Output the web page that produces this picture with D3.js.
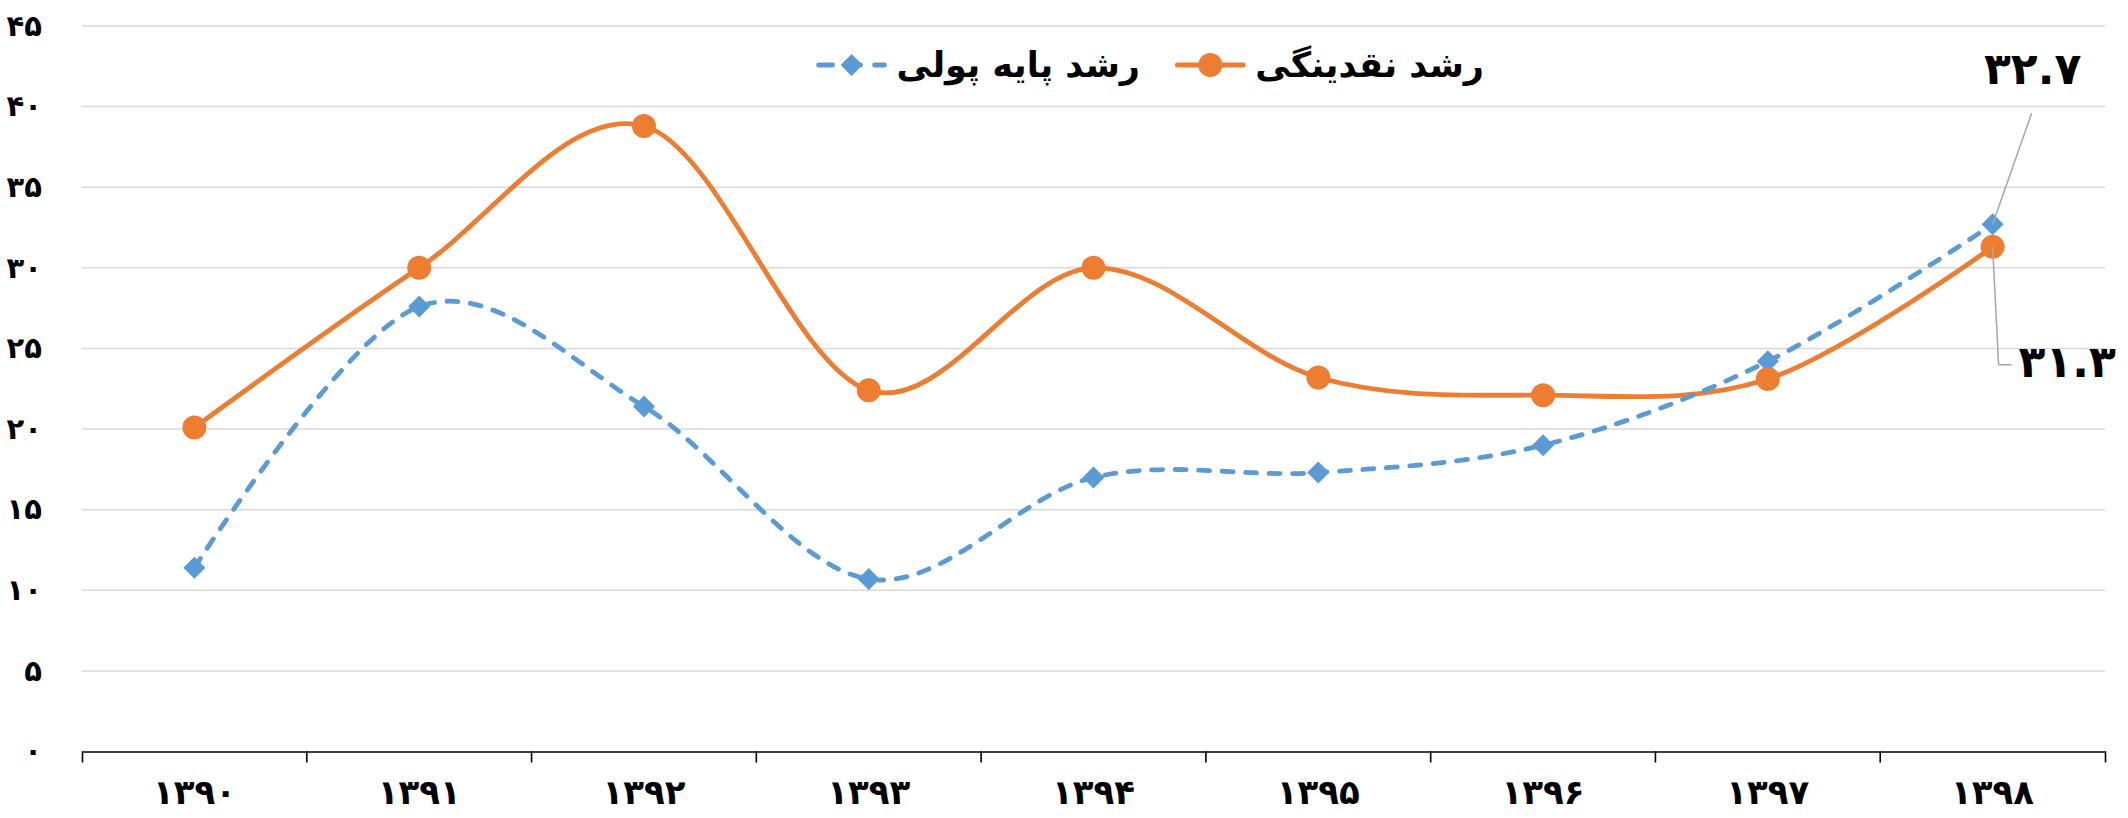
<!DOCTYPE html>
<html>
<head>
    <meta charset="utf-8" />
    <title>رشد نقدینگی و پایه پولی</title>
    <script type="text/javascript" src="https://d3js.org/d3.v7.min.js"></script>
    <style>
        html, body { margin: 0; padding: 0; background: #fff; }
        svg { display: block; font-family: "DejaVu Sans", sans-serif; }
    </style>
</head>
<body>
    <div id="chart"></div>
    <script type="text/javascript">

        var w = 2128,
            h = 818;

        var years = ["1390", "1391", "1392", "1393", "1394", "1395", "1396", "1397", "1398"];
        var liquidity = [20.1, 30.0, 38.8, 22.4, 30.0, 23.2, 22.1, 23.1, 31.3];
        var monetaryBase = [11.4, 27.6, 21.4, 10.7, 17.0, 17.3, 19.0, 24.2, 32.7];
        var yTicks = [0, 5, 10, 15, 20, 25, 30, 35, 40, 45];
        var seriesNames = ["رشد نقدینگی", "رشد پایه پولی"];

        // persian digits
        function fa(v) {
            return String(v).replace(/[0-9]/g, function(c) { return "۰۱۲۳۴۵۶۷۸۹"[+c]; });
        }

        var svg = d3.select("#chart").append("svg")
            .attr("width", w)
            .attr("height", h);

        var x = d3.scaleBand().domain(years).range([82, 2105]);
        var y = d3.scaleLinear().domain([0, 45]).range([751.5, 26]);
        var cx = function(d, i) { return x(years[i]) + x.bandwidth() / 2; };

        // gridlines
        svg.append("g").selectAll("line")
            .data(yTicks.slice(1))
            .enter().append("line")
            .attr("x1", 82).attr("x2", 2105)
            .attr("y1", function(d) { return y(d); })
            .attr("y2", function(d) { return y(d); })
            .attr("stroke", "#d9d9d9")
            .attr("stroke-width", 1.5);

        // y axis labels
        var yAxis = svg.append("g")
            .attr("transform", "translate(82,0)")
            .call(d3.axisLeft(y).tickValues(yTicks).tickFormat(fa).tickSize(0).tickPadding(40));
        yAxis.select(".domain").remove();
        yAxis.selectAll("text")
            .attr("font-size", "29px")
            .attr("font-weight", "bold")
            .attr("font-family", "DejaVu Sans, sans-serif")
            .attr("fill", "#000");

        // x axis
        var xAxis = svg.append("g")
            .attr("transform", "translate(0," + y(0) + ")")
            .call(d3.axisBottom(x).tickFormat(fa).tickSize(0).tickSizeOuter(11).tickPadding(28));
        xAxis.select(".domain").attr("stroke", "#000").attr("stroke-width", 1.6);
        xAxis.selectAll("text")
            .attr("font-size", "34px")
            .attr("font-weight", "bold")
            .attr("font-family", "DejaVu Sans, sans-serif")
            .attr("fill", "#000");
        xAxis.selectAll(".bound")
            .data(years.slice(1))
            .enter().append("line")
            .attr("class", "bound")
            .attr("x1", function(d) { return x(d); })
            .attr("x2", function(d) { return x(d); })
            .attr("y1", 0).attr("y2", 11)
            .attr("stroke", "#000")
            .attr("stroke-width", 1.6);

        var line = d3.line()
            .x(cx)
            .y(function(d) { return y(d); })
            .curve(d3.curveCardinal.tension(0));

        // liquidity line
        svg.append("path")
            .datum(liquidity)
            .attr("d", line)
            .attr("fill", "none")
            .attr("stroke", "#ed7d31")
            .attr("stroke-width", 4.8)
            .attr("stroke-linecap", "round");

        // monetary base line (dashed)
        svg.append("path")
            .datum(monetaryBase)
            .attr("d", line)
            .attr("fill", "none")
            .attr("stroke", "#5b9bd5")
            .attr("stroke-width", 4.8)
            .attr("stroke-dasharray", "11,12.5")
            .attr("stroke-linecap", "round");

        function diamond(r) {
            return "M0," + (-r) + "L" + r + ",0L0," + r + "L" + (-r) + ",0Z";
        }

        svg.append("g").selectAll("path")
            .data(monetaryBase)
            .enter().append("path")
            .attr("d", diamond(11))
            .attr("transform", function(d, i) { return "translate(" + cx(d, i) + "," + y(d) + ")"; })
            .attr("fill", "#5b9bd5");

        svg.append("g").selectAll("circle")
            .data(liquidity)
            .enter().append("circle")
            .attr("cx", cx)
            .attr("cy", function(d) { return y(d); })
            .attr("r", 12)
            .attr("fill", "#ed7d31");

        // data labels on last point
        var last = years.length - 1;
        var lx = cx(0, last);
        var leader = svg.append("g")
            .attr("fill", "none")
            .attr("stroke", "#a6a6a6")
            .attr("stroke-width", 1.5);
        leader.append("path")
            .attr("d", "M" + lx + "," + y(monetaryBase[last]) + "L" + (lx + 39) + "," + (y(monetaryBase[last]) - 111));
        leader.append("path")
            .attr("d", "M" + lx + "," + y(liquidity[last]) + "L" + (lx + 6) + "," + (y(liquidity[last]) + 118) + "h13");

        svg.append("text")
            .attr("x", lx + 40)
            .attr("y", y(monetaryBase[last]) - 140)
            .attr("text-anchor", "middle")
            .attr("font-size", "44px")
            .attr("font-weight", "bold")
            .text(fa(monetaryBase[last]));

        svg.append("text")
            .attr("x", lx + 26)
            .attr("y", y(liquidity[last]) + 130)
            .attr("text-anchor", "start")
            .attr("font-size", "44px")
            .attr("font-weight", "bold")
            .text(fa(liquidity[last]));

        // legend (right to left)
        var legend = svg.append("g").attr("transform", "translate(0,65)");
        var items = [
            { name: seriesNames[0], color: "#ed7d31", dash: null, marker: "circle", right: 1484 },
            { name: seriesNames[1], color: "#5b9bd5", dash: "14,14", marker: "diamond", right: 1140 }
        ];
        items.forEach(function(it) {
            var g = legend.append("g");
            var t = g.append("text")
                .attr("x", it.right)
                .attr("y", 12)
                .attr("text-anchor", "end")
                .attr("font-size", "35px")
                .attr("font-weight", "bold")
                .text(it.name);
            var tw = t.node().getComputedTextLength();
            var x1 = it.right - tw - 78, x2 = it.right - tw - 12;
            g.append("line")
                .attr("x1", x1).attr("x2", x2)
                .attr("y1", 0).attr("y2", 0)
                .attr("stroke", it.color)
                .attr("stroke-width", 4.8)
                .attr("stroke-linecap", "round")
                .attr("stroke-dasharray", it.dash);
            if (it.marker === "circle") {
                g.append("circle").attr("cx", (x1 + x2) / 2).attr("cy", 0).attr("r", 12).attr("fill", it.color);
            } else {
                g.append("path").attr("d", diamond(11))
                    .attr("transform", "translate(" + ((x1 + x2) / 2) + ",0)")
                    .attr("fill", it.color);
            }
        });
    </script>
</body>
</html>
